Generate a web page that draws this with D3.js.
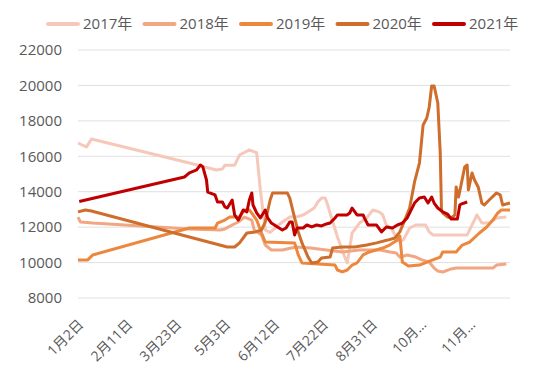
<!DOCTYPE html>
<html>
<head>
<meta charset="utf-8">
<script src="https://cdn.jsdelivr.net/npm/d3@7/dist/d3.min.js"></script>
<style>
  body { margin: 0; background: #fff; }
  text { font-family: "Open Sans", "Noto Sans CJK SC", sans-serif; fill: #595959; }
</style>
</head>
<body>
<svg id="chart" width="550" height="373"></svg>
<script>
// categories: one per day, labels shown every 40 days
var nDays = 354,
    tickEvery = 40,
    tickLabels = ["1月2日", "2月11日", "3月23日", "5月3日", "6月12日", "7月22日", "8月31日", "10月10日", "11月19日"],
    yTicks = [8000, 10000, 12000, 14000, 16000, 18000, 20000, 22000];

var seriesNames = ["2017年", "2018年", "2019年", "2020年", "2021年"],
    seriesColors = ["#f5c8ba", "#f1a783", "#ec873d", "#cf6e2c", "#c00000"];

// [day index, price]
var s2017 = [[0,16750],[3,16650],[7,16530],[11,16980],[91,15620],[113,15230],[118,15280],[120,15500],[128,15500],
  [132,16070],[140,16360],[146,16200],[149,14100],[153,11840],[157,11700],[161,11950],[167,12290],[173,12570],
  [180,12600],[184,12690],[188,12860],[193,13080],[196,13420],[199,13650],[202,13650],[204,13250],[207,12570],
  [212,11440],[218,10310],[220,9980],[224,11670],[230,12230],[236,12520],[241,12970],[246,12860],[249,12700],
  [252,12100],[256,11950],[259,11560],[263,11160],[266,11300],[271,11950],[276,12120],[284,12120],[287,11730],
  [290,11560],[318,11560],[326,12690],[330,12230],[336,12230],[342,12520],[350,12570]];

var s2018 = [[0,12570],[2,12290],[12,12230],[91,11900],[116,11840],[120,11900],[126,12120],[131,12290],[136,12570],
  [142,12400],[144,11840],[150,11560],[153,10990],[158,10710],[167,10710],[178,10880],[190,10820],[203,10710],
  [216,10600],[230,10710],[247,10710],[255,10600],[260,10540],[263,10310],[269,10430],[276,10310],[281,10150],
  [287,10030],[291,9690],[294,9520],[298,9470],[305,9640],[309,9690],[339,9690],[342,9860],[350,9920]];

var s2019 = [[0,10150],[8,10150],[12,10430],[91,11950],[112,11950],[114,12230],[120,12400],[124,12570],[132,12570],
  [136,12970],[140,12970],[143,12690],[146,12400],[150,11670],[153,11160],[177,11110],[180,10430],[183,9980],
  [210,9860],[212,9580],[216,9470],[220,9580],[224,9860],[228,9980],[233,10430],[238,10600],[249,10820],
  [255,11000],[261,11270],[263,11500],[265,10030],[270,9800],[279,9860],[290,10150],[296,10310],[298,10600],
  [309,10600],[314,10990],[320,11160],[328,11670],[334,12010],[339,12400],[343,12800],[346,12970],[353,12970]];

var s2020 = [[0,12860],[6,12970],[11,12910],[91,11440],[122,10880],[128,10880],[132,11110],[138,11670],[145,11730],
  [150,11840],[153,12290],[157,13530],[159,13930],[171,13930],[173,13650],[177,12520],[180,11730],[183,11110],
  [188,10310],[191,9980],[196,10030],[199,10260],[206,10310],[208,10820],[216,10880],[226,10880],[236,10990],
  [244,11110],[253,11270],[259,11390],[263,11730],[267,12400],[271,13080],[275,14550],[279,15620],[282,17770],
  [285,18160],[287,18780],[289,19970],[291,19970],[294,19010],[296,16190],[297,12970],[298,12800],[302,12570],
  [305,12520],[308,12690],[309,14270],[311,13700],[313,14380],[316,15400],[318,15510],[319,14100],[322,15060],
  [324,14660],[327,14270],[330,13360],[332,13250],[336,13530],[342,13930],[345,13820],[347,13250],[353,13360]];

var s2021 = [[1,13450],[87,14830],[91,15060],[97,15230],[100,15510],[102,15400],[105,14660],[106,13980],[112,13820],
  [114,13420],[118,13420],[120,13140],[122,13080],[126,13530],[128,12690],[131,12400],[135,12970],[138,12860],
  [140,13530],[142,13930],[143,13250],[146,12800],[149,12520],[153,12970],[155,12520],[158,12230],[163,12010],
  [167,11840],[170,11950],[173,12290],[175,12290],[177,11560],[179,11950],[184,11950],[187,12120],[191,12010],
  [195,12120],[199,12070],[203,12180],[206,12230],[210,12520],[212,12690],[220,12690],[222,12800],[224,13080],
  [228,12690],[233,12690],[234,12520],[237,12120],[244,12120],[248,11730],[252,12010],[257,11950],[261,12120],
  [265,12230],[269,12520],[275,13360],[279,13650],[283,13700],[286,13360],[289,13700],[291,13360],[294,13080],
  [298,12860],[302,12740],[305,12460],[310,12460],[312,13250],[313,13300],[318,13420]];

var allSeries = [s2017, s2018, s2019, s2020, s2021];

var svg = d3.select("#chart"),
    plotLeft = 78, plotRight = 510, plotTop = 50, plotBottom = 298;

var x = d3.scaleLinear().domain([0, nDays - 1]).range([plotLeft, plotRight]);
var y = d3.scaleLinear().domain([8000, 22000]).range([plotBottom, plotTop]);

// grid lines
svg.append("g").selectAll("line")
    .data(yTicks)
  .enter().append("line")
    .attr("x1", plotLeft).attr("x2", plotRight)
    .attr("y1", function(d) { return y(d); })
    .attr("y2", function(d) { return y(d); })
    .attr("stroke", "#e0e0e0")
    .attr("stroke-width", 1);

// y labels
svg.append("g").selectAll("text")
    .data(yTicks)
  .enter().append("text")
    .attr("x", 62)
    .attr("y", function(d) { return y(d); })
    .attr("dy", "0.35em")
    .attr("text-anchor", "end")
    .style("font-size", "15px")
    .text(function(d) { return d; });

// x labels (long ones get cut like the original)
svg.append("g").selectAll("text")
    .data(tickLabels)
  .enter().append("text")
    .attr("transform", function(d, i) { return "translate(" + (x(i * tickEvery) + 3) + "," + 322 + ") rotate(-45)"; })
    .attr("dy", "0.35em")
    .attr("text-anchor", "end")
    .style("font-size", "14px")
    .text(function(d) { return d.length > 5 ? d.slice(0, 3) + "…" : d; });

// lines
var line = d3.line()
    .x(function(d) { return x(d[0]); })
    .y(function(d) { return y(d[1]); });

svg.append("g").selectAll("path")
    .data(allSeries)
  .enter().append("path")
    .attr("d", line)
    .attr("fill", "none")
    .attr("stroke", function(d, i) { return seriesColors[i]; })
    .attr("stroke-width", 3)
    .attr("stroke-linejoin", "round");

// legend
var legend = svg.append("g").selectAll("g")
    .data(seriesNames)
  .enter().append("g")
    .attr("transform", function(d, i) { return "translate(" + (46 + i * 96.5) + ",24)"; });

legend.append("line")
    .attr("x1", 2).attr("x2", 32)
    .attr("stroke", function(d, i) { return seriesColors[i]; })
    .attr("stroke-width", 4)
    .attr("stroke-linecap", "round");

legend.append("text")
    .attr("x", 37)
    .attr("dy", "0.35em")
    .style("font-size", "15px")
    .text(function(d) { return d; });
</script>
</body>
</html>
